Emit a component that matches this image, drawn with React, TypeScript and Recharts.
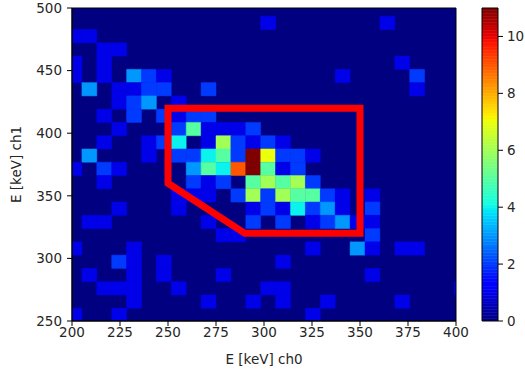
import { ComposedChart, XAxis, YAxis, ReferenceArea, Line } from "recharts";

// histogram bin layout (keV)
const xEdgeStart = 197.4;
const xBinWidth = 7.76;
const yEdgeStart = 249.6;
const yBinHeight = 10.6;

// counts per bin, rows listed from top (highest ch1) to bottom, 27 columns each (ch0 ascending)
const counts: number[][] = [
  [0, 0, 0, 0, 0, 0, 0, 0, 0, 0, 0, 0, 0, 0, 0, 0, 0, 0, 0, 0, 0, 0, 0, 0, 0, 0, 0],
  [0, 0, 0, 0, 0, 0, 0, 0, 0, 0, 0, 0, 0, 1, 0, 0, 0, 0, 0, 0, 0, 1, 0, 0, 0, 0, 0],
  [1, 1, 0, 0, 0, 0, 0, 0, 0, 0, 0, 0, 0, 0, 0, 0, 0, 0, 0, 0, 0, 0, 0, 0, 0, 0, 0],
  [0, 0, 1, 1, 0, 0, 0, 0, 0, 0, 0, 0, 0, 0, 0, 0, 0, 0, 0, 0, 0, 0, 0, 0, 0, 0, 0],
  [1, 0, 1, 0, 0, 0, 0, 0, 0, 0, 0, 0, 0, 0, 0, 0, 0, 0, 0, 0, 0, 0, 1, 0, 0, 0, 0],
  [1, 0, 1, 0, 3, 2, 1, 0, 0, 0, 0, 0, 0, 0, 0, 0, 0, 0, 1, 0, 0, 0, 0, 2, 0, 0, 0],
  [0, 3, 0, 1, 1, 2, 2, 0, 0, 2, 0, 0, 0, 0, 0, 0, 0, 0, 0, 0, 0, 0, 0, 1, 0, 0, 0],
  [0, 0, 0, 1, 2, 3, 0, 1, 0, 0, 0, 0, 0, 0, 0, 0, 0, 0, 0, 0, 0, 0, 0, 0, 0, 0, 0],
  [0, 0, 1, 0, 2, 0, 2, 1, 2, 2, 0, 0, 0, 0, 0, 0, 0, 0, 0, 0, 0, 0, 0, 0, 0, 0, 0],
  [0, 0, 0, 1, 0, 0, 0, 2, 5, 1, 1, 1, 2, 0, 0, 0, 0, 0, 0, 0, 0, 0, 0, 0, 0, 0, 0],
  [0, 0, 1, 0, 0, 1, 2, 4, 0, 1, 6, 2, 1, 2, 1, 0, 0, 0, 0, 0, 0, 0, 0, 0, 0, 0, 0],
  [0, 3, 0, 0, 0, 1, 0, 2, 2, 4, 5, 2, 11, 7, 2, 2, 1, 0, 0, 0, 0, 0, 0, 0, 0, 0, 0],
  [1, 0, 2, 1, 0, 0, 0, 0, 3, 5, 4, 9, 11, 5, 1, 2, 0, 0, 0, 0, 0, 0, 0, 0, 0, 0, 0],
  [0, 0, 1, 0, 0, 0, 0, 0, 2, 1, 2, 0, 5, 6, 5, 6, 2, 0, 0, 0, 0, 0, 0, 0, 0, 0, 0],
  [0, 0, 0, 0, 0, 0, 0, 1, 1, 1, 0, 2, 6, 2, 6, 5, 5, 2, 1, 0, 1, 0, 0, 0, 0, 0, 0],
  [0, 0, 0, 1, 0, 0, 0, 1, 0, 0, 0, 0, 1, 2, 1, 4, 2, 3, 1, 0, 2, 0, 0, 0, 0, 0, 0],
  [0, 1, 1, 0, 0, 0, 0, 0, 0, 1, 0, 0, 2, 0, 2, 0, 1, 2, 3, 1, 1, 0, 0, 0, 0, 0, 0],
  [0, 0, 0, 0, 0, 0, 0, 0, 0, 0, 1, 1, 0, 0, 0, 0, 0, 0, 0, 0, 2, 0, 0, 0, 0, 0, 0],
  [1, 0, 0, 0, 1, 0, 0, 0, 0, 0, 0, 0, 0, 0, 0, 0, 1, 0, 0, 3, 1, 0, 1, 1, 0, 0, 0],
  [0, 0, 0, 2, 1, 0, 1, 0, 0, 0, 0, 0, 0, 0, 1, 0, 0, 0, 0, 0, 0, 0, 0, 0, 0, 0, 0],
  [0, 1, 0, 0, 1, 0, 1, 0, 0, 0, 1, 0, 0, 0, 0, 0, 0, 0, 0, 0, 1, 0, 0, 0, 0, 0, 0],
  [0, 0, 1, 1, 1, 0, 0, 1, 0, 0, 0, 0, 0, 1, 1, 0, 0, 0, 0, 0, 0, 0, 0, 0, 0, 0, 1],
  [0, 0, 0, 0, 1, 0, 0, 0, 0, 1, 0, 0, 1, 0, 1, 0, 0, 1, 0, 0, 0, 0, 1, 0, 0, 0, 0],
  [1, 0, 0, 1, 0, 0, 0, 0, 0, 0, 0, 0, 0, 0, 0, 0, 1, 0, 0, 0, 0, 0, 0, 0, 0, 0, 0],
];

const countMax = 11;

// red selection polygon
const cutX = [250, 350, 350, 290, 250, 250];
const cutY = [420, 420, 320, 320, 360, 420];

const xTicks = [200, 225, 250, 275, 300, 325, 350, 375, 400];
const yTicks = [250, 300, 350, 400, 450, 500];
const cbarTicks = [0, 2, 4, 6, 8, 10];

const font = "DejaVu Sans";
const textColor = "#262626";

// matplotlib "jet"
const interp = (pts: number[][], t: number) => {
  for (let i = 1; i < pts.length; i++) {
    if (t <= pts[i][0]) {
      const [t0, v0] = pts[i - 1];
      const [t1, v1] = pts[i];
      return v0 + ((t - t0) / (t1 - t0)) * (v1 - v0);
    }
  }
  return pts[pts.length - 1][1];
};
const jet = (t: number) => {
  const r = interp([[0, 0], [0.35, 0], [0.66, 1], [0.89, 1], [1, 0.5]], t);
  const g = interp([[0, 0], [0.125, 0], [0.375, 1], [0.64, 1], [0.91, 0], [1, 0]], t);
  const b = interp([[0, 0.5], [0.11, 1], [0.34, 1], [0.65, 0], [1, 0]], t);
  return `rgb(${Math.round(r * 255)},${Math.round(g * 255)},${Math.round(b * 255)})`;
};

const cells = counts.flatMap((row, r) =>
  row.map((c, i) => {
    const j = counts.length - 1 - r;
    return {
      x1: xEdgeStart + i * xBinWidth,
      x2: xEdgeStart + (i + 1) * xBinWidth,
      y1: yEdgeStart + j * yBinHeight,
      y2: yEdgeStart + (j + 1) * yBinHeight,
      c,
    };
  })
);

const outline = cutX.map((x, i) => ({ x, y: cutY[i] }));

// colour bar drawn as thin slices of the count range
const cbarSteps = Array.from({ length: 110 }, (_, k) => (k * countMax) / 110);
const cbarStep = countMax / 110;

const tickStyle = { fontSize: 13.5, fill: textColor, fontFamily: font };

const YLabel = ({ viewBox }: any) => {
  const cx = viewBox.x + 16;
  const cy = viewBox.y + viewBox.height / 2;
  return (
    <text
      x={cx}
      y={cy}
      transform={`rotate(-90, ${cx}, ${cy})`}
      textAnchor="middle"
      dominantBaseline="central"
      fontSize={13.5}
      fontFamily={font}
      fill={textColor}
    >
      E [keV] ch1
    </text>
  );
};

export default function App() {
  return (
    <div style={{ position: "absolute", left: 0, top: 0, width: 525, height: 374, background: "#fff" }}>
      <div style={{ position: "absolute", left: 0, top: 0 }}>
        <ComposedChart width={470} height={374} margin={{ top: 8, right: 14, bottom: 0, left: 0 }} data={outline}>
          <XAxis
            type="number"
            dataKey="x"
            domain={[200, 400]}
            ticks={xTicks}
            allowDataOverflow
            height={53}
            tick={tickStyle}
            tickSize={5}
            tickMargin={1}
            stroke="#000"
            label={{ value: "E [keV] ch0", position: "insideBottom", offset: 10, style: tickStyle }}
          />
          <YAxis
            type="number"
            domain={[250, 500]}
            ticks={yTicks}
            allowDataOverflow
            width={72}
            tick={tickStyle}
            tickSize={5}
            tickMargin={5}
            stroke="#000"
            label={{ content: YLabel }}
          />
          <ReferenceArea x1={200} x2={400} y1={250} y2={500} fill="#000080" fillOpacity={1} stroke="none" />
          {cells
            .filter((d) => d.c > 0)
            .map((d, k) => (
              <ReferenceArea
                key={k}
                x1={d.x1}
                x2={d.x2}
                y1={d.y1}
                y2={d.y2}
                fill={jet(d.c / countMax)}
                fillOpacity={1}
                stroke={jet(d.c / countMax)}
                strokeWidth={0.5}
                ifOverflow="hidden"
              />
            ))}
          <ReferenceArea x1={200} x2={400} y1={250} y2={500} fill="none" stroke="#000" strokeWidth={1} />
          <Line
            dataKey="y"
            type="linear"
            stroke="#ff0000"
            strokeWidth={7}
            strokeLinejoin="miter"
            strokeLinecap="square"
            dot={false}
            activeDot={false}
            isAnimationActive={false}
          />
        </ComposedChart>
      </div>
      <div style={{ position: "absolute", left: 470, top: 0 }}>
        <ComposedChart
          width={55}
          height={374}
          margin={{ top: 8, right: 0, bottom: 53, left: 12 }}
          data={[{ x: 0 }, { x: 1 }]}
        >
          <XAxis type="number" dataKey="x" domain={[0, 1]} hide />
          <YAxis
            type="number"
            orientation="right"
            domain={[0, 11]}
            ticks={cbarTicks}
            allowDataOverflow
            width={27}
            tick={tickStyle}
            tickSize={5}
            tickMargin={4}
            stroke="#000"
            axisLine={false}
          />
          {cbarSteps.map((v) => (
            <ReferenceArea
              key={v}
              x1={0}
              x2={1}
              y1={v}
              y2={v + cbarStep}
              fill={jet((v + cbarStep / 2) / countMax)}
              fillOpacity={1}
              stroke={jet((v + cbarStep / 2) / countMax)}
              strokeWidth={0.5}
              ifOverflow="hidden"
            />
          ))}
          <ReferenceArea x1={0} x2={1} y1={0} y2={11} fill="none" stroke="#000" strokeWidth={1} />
        </ComposedChart>
      </div>
    </div>
  );
}
